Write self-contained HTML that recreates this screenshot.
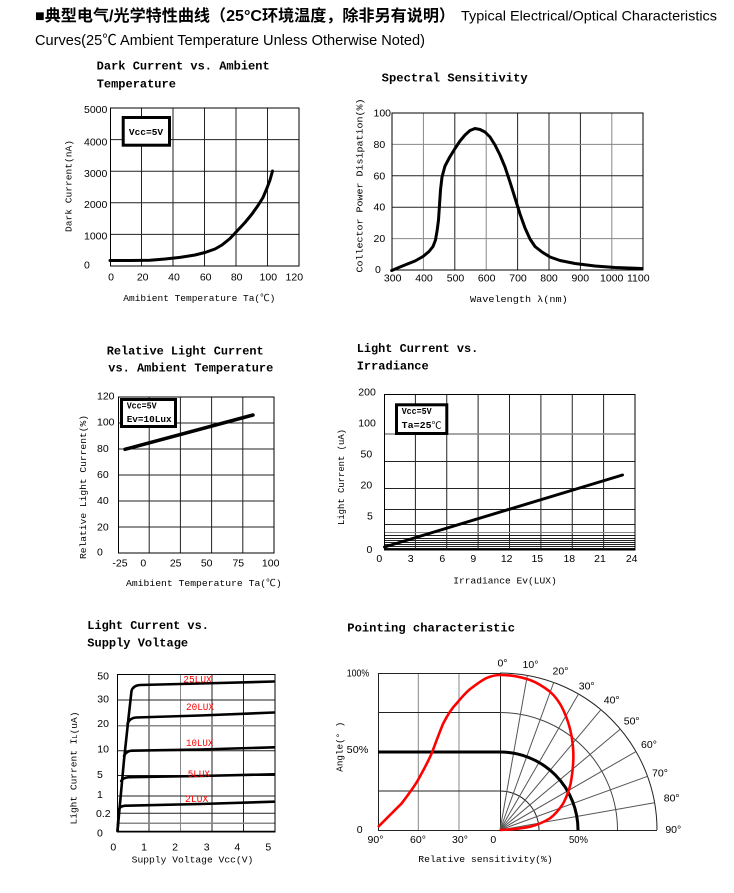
<!DOCTYPE html>
<html><head><meta charset="utf-8"><style>
html,body{margin:0;padding:0;background:#fff;}
svg{display:block;}
.t{font-family:"Liberation Mono","Noto Sans CJK SC",monospace;font-weight:bold;font-size:12px;fill:#000;}
.k{font-family:"Liberation Sans","Noto Sans CJK SC",sans-serif;font-size:10.5px;fill:#000;}
.a{font-family:"Liberation Mono","Noto Sans CJK SC",monospace;font-size:9.5px;fill:#000;}
.b{font-family:"Liberation Mono","Noto Sans CJK SC",monospace;font-size:9.5px;font-weight:bold;fill:#000;}
.g{stroke:#222;stroke-width:1;fill:none;}
.gg{stroke:#888;stroke-width:1;fill:none;}
.c{stroke:#000;stroke-width:3;fill:none;stroke-linejoin:round;stroke-linecap:round;}
.r{font-family:"Liberation Mono",monospace;font-size:10px;fill:#f00;}
</style></head><body>
<svg width="734" height="893" viewBox="0 0 734 893" xmlns="http://www.w3.org/2000/svg">
<rect width="734" height="893" fill="#fff"/>
<!-- Header -->
<text x="35" y="21" font-family="'Liberation Sans','Noto Sans CJK SC',sans-serif" font-size="16" font-weight="bold" textLength="420" lengthAdjust="spacingAndGlyphs">■典型电气/光学特性曲线（25°C环境温度，除非另有说明）</text>
<text x="461" y="20.5" font-family="'Liberation Sans','Noto Sans CJK SC',sans-serif" font-size="14" textLength="256" lengthAdjust="spacingAndGlyphs">Typical Electrical/Optical Characteristics</text>
<text x="35" y="45" font-family="'Liberation Sans','Noto Sans CJK SC',sans-serif" font-size="14.5" textLength="390" lengthAdjust="spacingAndGlyphs">Curves(25℃ Ambient Temperature Unless Otherwise Noted)</text>

<!-- ===== Chart 1: Dark Current ===== -->
<text class="t" x="96.7" y="66.7" dominant-baseline="central" textLength="173" lengthAdjust="spacingAndGlyphs">Dark Current vs. Ambient</text>
<text class="t" x="96.7" y="84.3" dominant-baseline="central">Temperature</text>
<g>
<path class="g" d="M141.5,108V266M173,108V266M204.5,108V266M236,108V266M267.5,108V266"/>
<path class="g" d="M110,139.6H299M110,171.2H299M110,202.8H299M110,234.4H299"/>
<rect class="g" x="110.5" y="108" width="188.5" height="158" style="stroke:#000"/>
</g>
<rect x="123.2" y="117.5" width="46.3" height="27.7" fill="#fff" stroke="#000" stroke-width="3"/>
<text class="b" x="146" y="132.5" text-anchor="middle" dominant-baseline="central" font-size="10">Vcc=5V</text>
<polyline class="c" points="110,260.5 130,260.5 150,260.2 165,259 180,257.4 195,255 205,252.5 215,249 222,245 230,238.5 238,230 245,222.5 252,214 258,205.5 263,197.5 267,188 270,180 272.5,171"/>
<g class="k" dominant-baseline="central">
<text x="84" y="110">5000</text><text x="84" y="142.3">4000</text><text x="84" y="174">3000</text><text x="84" y="205">2000</text><text x="84" y="236.7">1000</text><text x="84" y="265.7">0</text>
</g>
<g class="k" text-anchor="middle" dominant-baseline="central">
<text x="111" y="277.7">0</text><text x="142.7" y="277.7">20</text><text x="174" y="277.7">40</text><text x="205.7" y="277.7">60</text><text x="236.7" y="277.7">80</text><text x="268.3" y="277.7">100</text><text x="294.3" y="277.7">120</text>
</g>
<text class="a" x="123.3" y="298.3" dominant-baseline="central" textLength="152" lengthAdjust="spacingAndGlyphs">Amibient Temperature Ta(℃)</text>
<text class="a" transform="translate(69,186) rotate(-90)" text-anchor="middle" dominant-baseline="central" textLength="92" lengthAdjust="spacingAndGlyphs">Dark Current(nA)</text>

<!-- ===== Chart 2: Spectral Sensitivity ===== -->
<text class="t" x="381.7" y="78.3" dominant-baseline="central" textLength="146" lengthAdjust="spacingAndGlyphs">Spectral Sensitivity</text>
<path class="gg" d="M423.4,113V270M486.2,113V270M611.8,113V270"/>
<path class="g" d="M454.8,113V270M517.6,113V270M549,113V270M580.4,113V270"/>
<path class="gg" d="M392,144.4H643M392,238.6H643"/>
<path class="g" d="M392,175.8H643M392,207.2H643"/>
<rect class="g" x="392" y="113" width="251" height="157" style="stroke:#000"/>
<polyline class="c" points="391.7,270.5 400,267 407.4,264 415,261 423,256.5 429,251.5 433,246.5 435.5,240 437.2,230 438.5,220 439.5,205 440.5,190 442,177 445,166 449.5,157.5 455,148.5 460,141 465,135 470,130.5 475,128.5 480,129.5 485,132 490,137 495,145 500,155 505,167 510,182 515,198 520,214 525,228 530,239 535,246.5 542,252 550,257 560,260.5 575,263.5 595,266 615,267.5 642,268.5"/>
<g class="k" dominant-baseline="central">
<text x="373.5" y="113.3">100</text><text x="373.5" y="145">80</text><text x="373.5" y="176.7">60</text><text x="373.5" y="207.7">40</text><text x="373.5" y="239">20</text><text x="375" y="270">0</text>
</g>
<g class="k" text-anchor="middle" dominant-baseline="central">
<text x="392.7" y="278.3">300</text><text x="424" y="278.3">400</text><text x="455.5" y="278.3">500</text><text x="486.7" y="278.3">600</text><text x="518" y="278.3">700</text><text x="549" y="278.3">800</text><text x="580.3" y="278.3">900</text><text x="611.7" y="278.3">1000</text><text x="638.3" y="278.3">1100</text>
</g>
<text class="a" x="470" y="299.3" dominant-baseline="central" textLength="97.7" lengthAdjust="spacingAndGlyphs">Wavelength λ(nm)</text>
<text class="a" transform="translate(360,185.5) rotate(-90)" text-anchor="middle" dominant-baseline="central" textLength="174" lengthAdjust="spacingAndGlyphs">Collector Power Disipation(%)</text>

<!-- ===== Chart 3: Relative Light Current ===== -->
<text class="t" x="106.7" y="351.7" dominant-baseline="central" textLength="157" lengthAdjust="spacingAndGlyphs">Relative Light Current</text>
<text class="t" x="108.3" y="368.3" dominant-baseline="central" textLength="165" lengthAdjust="spacingAndGlyphs">vs. Ambient Temperature</text>
<path class="g" d="M149.2,397V553M180.4,397V553M211.6,397V553M242.8,397V553"/>
<path class="g" d="M118,423H274M118,449H274M118,475H274M118,501H274M118,527H274"/>
<rect class="g" x="118.5" y="397" width="155.5" height="156" style="stroke:#000"/>
<rect x="121.5" y="399.5" width="54" height="27" fill="#fff" stroke="#000" stroke-width="3"/>
<text class="b" x="126.7" y="406" dominant-baseline="central" textLength="30" lengthAdjust="spacingAndGlyphs">Vcc=5V</text>
<text class="b" x="126.7" y="419.3" dominant-baseline="central" textLength="45" lengthAdjust="spacingAndGlyphs">Ev=10Lux</text>
<line x1="125" y1="449.3" x2="253" y2="415" stroke="#000" stroke-width="3.5" stroke-linecap="round"/>
<g class="k" dominant-baseline="central">
<text x="97" y="396.7">120</text><text x="97" y="422.3">100</text><text x="97" y="449">80</text><text x="97" y="475">60</text><text x="97" y="501">40</text><text x="97" y="527.3">20</text><text x="97" y="552.3">0</text>
</g>
<g class="k" text-anchor="middle" dominant-baseline="central">
<text x="120" y="563.3">-25</text><text x="143.3" y="563.3">0</text><text x="175.7" y="563.3">25</text><text x="206.7" y="563.3">50</text><text x="238.3" y="563.3">75</text><text x="270.7" y="563.3">100</text>
</g>
<text class="a" x="126" y="583.3" dominant-baseline="central" textLength="155.7" lengthAdjust="spacingAndGlyphs">Amibient Temperature Ta(℃)</text>
<text class="a" transform="translate(83.3,487) rotate(-90)" text-anchor="middle" dominant-baseline="central" textLength="144" lengthAdjust="spacingAndGlyphs">Relative Light Current(%)</text>

<!-- ===== Chart 4: Light Current vs Irradiance ===== -->
<text class="t" x="356.7" y="349" dominant-baseline="central" textLength="121.6" lengthAdjust="spacingAndGlyphs">Light Current vs.</text>
<text class="t" x="356.7" y="366.7" dominant-baseline="central">Irradiance</text>
<path class="g" d="M415.4,394V550M446.75,394V550M478.1,394V550M509.5,394V550M540.9,394V550M572.25,394V550M603.6,394V550"/>
<path class="gg" d="M384,434H635" style="stroke-width:1.5"/>
<path class="g" d="M384,461.5H635M384,488.5H635M384,509.5H635M384,524.5H635"/>
<path class="gg" d="M384,532.5H635"/>
<path class="g" d="M384,535.5H635M384,538.5H635M384,540.5H635M384,542.5H635M384,544.5H635M384,546.5H635M384,548.5H635"/>
<rect class="g" x="384.5" y="394.5" width="250.5" height="155.5" style="stroke:#000"/>
<path d="M384,549.5H635" stroke="#000" stroke-width="2"/>
<rect x="396.5" y="404.8" width="50.3" height="28.7" fill="#fff" stroke="#000" stroke-width="3"/>
<text class="b" x="401.7" y="411.3" dominant-baseline="central" textLength="30" lengthAdjust="spacingAndGlyphs">Vcc=5V</text>
<text x="401.7" y="425.7" dominant-baseline="central" class="b" textLength="40" lengthAdjust="spacingAndGlyphs">Ta=25<tspan font-weight="normal">℃</tspan></text>
<line x1="384.5" y1="547" x2="622.5" y2="475" stroke="#000" stroke-width="3" stroke-linecap="round"/>
<g class="k" dominant-baseline="central">
<text x="358.3" y="392.3">200</text><text x="358.3" y="423.3">100</text><text x="360.5" y="454.3">50</text><text x="360.5" y="485.7">20</text><text x="367" y="516.7">5</text><text x="366.5" y="550">0</text>
</g>
<g class="k" text-anchor="middle" dominant-baseline="central">
<text x="379.3" y="559">0</text><text x="410.7" y="559">3</text><text x="442.3" y="559">6</text><text x="473.3" y="559">9</text><text x="506.7" y="559">12</text><text x="537.3" y="559">15</text><text x="569.3" y="559">18</text><text x="600" y="559">21</text><text x="631.7" y="559">24</text>
</g>
<text class="a" x="453.3" y="581" dominant-baseline="central" textLength="103.4" lengthAdjust="spacingAndGlyphs">Irradiance Ev(LUX)</text>
<text class="a" transform="translate(341.7,477) rotate(-90)" text-anchor="middle" dominant-baseline="central" textLength="96" lengthAdjust="spacingAndGlyphs">Light Current (uA)</text>

<!-- ===== Chart 5: Light Current vs Supply Voltage ===== -->
<text class="t" x="87.3" y="626" dominant-baseline="central" textLength="121.6" lengthAdjust="spacingAndGlyphs">Light Current vs.</text>
<text class="t" x="87.3" y="643.3" dominant-baseline="central">Supply Voltage</text>
<path class="g" d="M149,674V832M212,674V832M243.5,674V832"/>
<path class="gg" d="M180.5,674V832"/>
<path class="g" d="M117,700H275M117,750.7H275M117,775.5H275M117,796H275M117,813.3H275"/>
<path class="gg" d="M117,725.7H275M117,823.3H275" style="stroke-width:1.5"/>
<rect class="g" x="117.5" y="674.5" width="157.5" height="157.5" style="stroke:#000"/>
<path d="M117,831.5H275" stroke="#000" stroke-width="1.5"/>
<g class="c" style="stroke-width:2.6">
<path d="M117.5,831 L124,760 L128.5,718 L131.5,691 Q133,685.5 140,685 L200,683.5 L274,681.5"/>
<path d="M127.5,724 Q129.5,718 136,717.5 L200,715.5 L274,712.5"/>
<path d="M124,756 Q126,751 132,750.7 L200,749.5 L274,747.3"/>
<path d="M121.2,781 Q123,777.5 129,777.2 L200,776 L274,774.3"/>
<path d="M119,809 Q120.5,806 125.5,805.7 L200,804 L274,801.7"/>
<path d="M117.5,831 L119,809"/>
</g>
<text class="r" x="183.3" y="681" dominant-baseline="central" textLength="28.4" lengthAdjust="spacingAndGlyphs">25LUX</text>
<text class="r" x="186" y="708.3" dominant-baseline="central" textLength="28" lengthAdjust="spacingAndGlyphs">20LUX</text>
<text class="r" x="186" y="744.5" dominant-baseline="central" textLength="27.3" lengthAdjust="spacingAndGlyphs">10LUX</text>
<text class="r" x="187.7" y="775.7" dominant-baseline="central" textLength="22.3" lengthAdjust="spacingAndGlyphs">5LUX</text>
<text class="r" x="185" y="800.7" dominant-baseline="central" textLength="23.3" lengthAdjust="spacingAndGlyphs">2LUX</text>
<g class="k" dominant-baseline="central">
<text x="97.3" y="676.7">50</text><text x="97.3" y="699.3">30</text><text x="97.3" y="724">20</text><text x="97.3" y="749.3">10</text><text x="97" y="775">5</text><text x="97" y="795">1</text><text x="96" y="814">0.2</text><text x="97" y="833.3">0</text>
</g>
<g class="k" text-anchor="middle" dominant-baseline="central">
<text x="113.3" y="847.3">0</text><text x="144" y="847.3">1</text><text x="175" y="847.3">2</text><text x="206.7" y="847.3">3</text><text x="237.3" y="847.3">4</text><text x="268.3" y="847.3">5</text>
</g>
<text class="a" x="131.7" y="860" dominant-baseline="central" textLength="121.6" lengthAdjust="spacingAndGlyphs">Supply Voltage Vcc(V)</text>
<text class="a" transform="translate(74,768) rotate(-90)" text-anchor="middle" dominant-baseline="central" textLength="113" lengthAdjust="spacingAndGlyphs">Light Current I<tspan font-size="7" dy="2">L</tspan><tspan dy="-2">(uA)</tspan></text>

<!-- ===== Chart 6: Pointing characteristic ===== -->
<text class="t" x="347.3" y="628.3" dominant-baseline="central" textLength="167.7" lengthAdjust="spacingAndGlyphs">Pointing characteristic</text>
<g>
<path class="gg" d="M418.3,673V830M459,673V830"/>
<path class="g" d="M378,712.5H500M378,791H500"/>
<path class="g" d="M378.5,673V830.5M378,673.5H500M500.5,673V830M378,830.5H657"/>
<path class="g" d="M500,673 A157,157 0 0 1 657,830"/>
<path class="gg" d="M500,712.5 A117.5,117.5 0 0 1 617.5,830" style="stroke:#444"/>
<path class="g" d="M500,791 A39,39 0 0 1 539,830"/>
<g class="g" style="stroke:#555">
<line x1="500" y1="830" x2="527.3" y2="675.4"/>
<line x1="500" y1="830" x2="553.7" y2="682.5"/>
<line x1="500" y1="830" x2="578.5" y2="694"/>
<line x1="500" y1="830" x2="600.9" y2="709.7"/>
<line x1="500" y1="830" x2="620.3" y2="729.1"/>
<line x1="500" y1="830" x2="636" y2="751.5"/>
<line x1="500" y1="830" x2="647.5" y2="776.3"/>
<line x1="500" y1="830" x2="654.6" y2="802.7"/>
</g>
<path d="M378,752 H500 A78,78 0 0 1 578,830" fill="none" stroke="#000" stroke-width="3"/>
<path d="M378,827 C386,819 395,810 401.7,803.3 C408,795 414,787 418,780 C423,771 428,762 431.7,753.3 C436,742 440,731 443.3,723.3 C447,716 452,708 456.7,703.3 C462,697 467,691 473.3,686.7 C480,681.5 485,678 490,676.7 C494,675.5 497,675 500,675 C505,675 508,675.2 511.7,675.7 C518,676.5 524,678 530,680 C538,683 544,687 550,691.7 C556,697 560,703 563.3,710 C567,718 570,727 571.7,736.7 C573,745 573.6,753 573.3,760 C573,768 572,776 570.7,783.3 C569,791 566,798 563.3,803.3 C559,810 555,814.5 550,818.3 C544,822 537,825 530,826.7 C522,828.3 514,829.5 500,830" fill="none" stroke="#f00" stroke-width="2.6" stroke-linejoin="round"/>
</g>
<g class="k" text-anchor="middle" dominant-baseline="central" font-size="10.5">
<text x="502.5" y="663.3">0°</text><text x="530.5" y="665">10°</text><text x="560.5" y="671.7">20°</text><text x="586.7" y="686.7">30°</text><text x="611.7" y="700.7">40°</text><text x="631.7" y="721.7">50°</text><text x="649" y="745">60°</text><text x="660" y="773.3">70°</text><text x="671.7" y="798.3">80°</text><text x="673.3" y="830">90°</text>
<text x="375.5" y="840">90°</text><text x="418" y="840">60°</text><text x="460" y="840">30°</text><text x="493.3" y="840">0</text><text x="578.5" y="840" textLength="19" lengthAdjust="spacingAndGlyphs">50%</text>
</g>
<g class="k" dominant-baseline="central" font-size="10">
<text x="346.7" y="673.3" textLength="22.6" lengthAdjust="spacingAndGlyphs">100%</text>
<text x="346.7" y="750" textLength="21.6" lengthAdjust="spacingAndGlyphs">50%</text>
<text x="356.7" y="830">0</text>
</g>
<text class="a" x="418.3" y="859.3" dominant-baseline="central" textLength="134.4" lengthAdjust="spacingAndGlyphs">Relative sensitivity(%)</text>
<text class="a" transform="translate(340,746.7) rotate(-90)" text-anchor="middle" dominant-baseline="central" textLength="50" lengthAdjust="spacingAndGlyphs">Angle(° )</text>
</svg>
</body></html>
